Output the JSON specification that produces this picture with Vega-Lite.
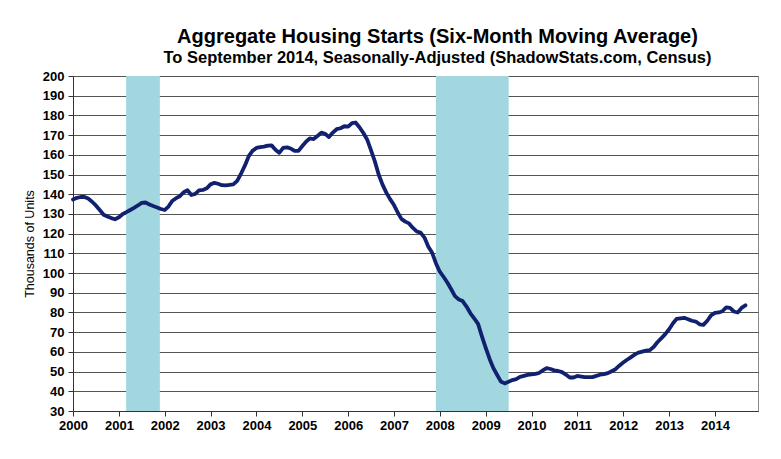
{
  "$schema": "https://vega.github.io/schema/vega-lite/v6.json",
  "width": 685,
  "height": 335,
  "autosize": {"type": "none"},
  "padding": {"left": 73, "top": 76, "right": 23, "bottom": 48},
  "background": "white",
  "title": {
    "text": "Aggregate Housing Starts (Six-Month Moving Average)",
    "subtitle": "To September 2014, Seasonally-Adjusted (ShadowStats.com, Census)",
    "font": "Liberation Sans",
    "fontSize": 20,
    "fontWeight": "bold",
    "color": "black",
    "subtitleFont": "Liberation Sans",
    "subtitleFontSize": 16.5,
    "subtitleFontWeight": "bold",
    "subtitleColor": "black",
    "subtitlePadding": 3,
    "anchor": "middle",
    "dx": 22,
    "offset": 4
  },
  "config": {
    "view": {"stroke": "#888888", "strokeWidth": 1},
    "axis": {
      "labelFont": "Liberation Sans",
      "labelFontSize": 13,
      "labelFontWeight": "bold",
      "labelColor": "black",
      "titleFont": "Liberation Sans",
      "titleColor": "black",
      "domainColor": "#333333",
      "tickColor": "#333333"
    }
  },
  "layer": [
    {
      "data": {"values": [
        {"start": "2001-02-27", "end": "2001-11-23"},
        {"start": "2007-12-01", "end": "2009-07-03"}
      ]},
      "mark": {"type": "rect", "color": "#A3D7DF"},
      "encoding": {
        "x": {
          "field": "start",
          "type": "temporal",
          "scale": {"type": "utc", "domain": [{"year": 2000, "month": 1, "date": 1, "utc": true}, {"year": 2014, "month": 12, "date": 10, "utc": true}]},
          "axis": {
            "title": null,
            "format": "%Y",
            "grid": false,
            "tickSize": 5,
            "labelPadding": 3,
            "labelAlign": "center",
            "labelFlush": false,
            "values": [
              {"year": 2000, "utc": true}, {"year": 2001, "utc": true}, {"year": 2002, "utc": true},
              {"year": 2003, "utc": true}, {"year": 2004, "utc": true}, {"year": 2005, "utc": true},
              {"year": 2006, "utc": true}, {"year": 2007, "utc": true}, {"year": 2008, "utc": true},
              {"year": 2009, "utc": true}, {"year": 2010, "utc": true}, {"year": 2011, "utc": true},
              {"year": 2012, "utc": true}, {"year": 2013, "utc": true}, {"year": 2014, "utc": true}
            ]
          }
        },
        "x2": {"field": "end"}
      }
    },
    {
      "data": {"values": [
        {"d": "2000-01-01", "v": 137.3}, {"d": "2000-02-01", "v": 138.2}, {"d": "2000-03-01", "v": 138.6}, {"d": "2000-04-01", "v": 138.6},
        {"d": "2000-05-01", "v": 137.8}, {"d": "2000-06-01", "v": 136.2}, {"d": "2000-07-01", "v": 134.3}, {"d": "2000-08-01", "v": 132.0},
        {"d": "2000-09-01", "v": 129.6}, {"d": "2000-10-01", "v": 128.7}, {"d": "2000-11-01", "v": 127.9}, {"d": "2000-12-01", "v": 127.3},
        {"d": "2001-01-01", "v": 128.3}, {"d": "2001-02-01", "v": 130.0}, {"d": "2001-03-01", "v": 130.9}, {"d": "2001-04-01", "v": 132.0},
        {"d": "2001-05-01", "v": 133.1}, {"d": "2001-06-01", "v": 134.3}, {"d": "2001-07-01", "v": 135.6}, {"d": "2001-08-01", "v": 135.8},
        {"d": "2001-09-01", "v": 134.8}, {"d": "2001-10-01", "v": 134.0}, {"d": "2001-11-01", "v": 133.3}, {"d": "2001-12-01", "v": 132.5},
        {"d": "2002-01-01", "v": 132.0}, {"d": "2002-02-01", "v": 133.9}, {"d": "2002-03-01", "v": 136.6}, {"d": "2002-04-01", "v": 138.0},
        {"d": "2002-05-01", "v": 139.0}, {"d": "2002-06-01", "v": 141.0}, {"d": "2002-07-01", "v": 142.0}, {"d": "2002-08-01", "v": 139.6},
        {"d": "2002-09-01", "v": 140.2}, {"d": "2002-10-01", "v": 142.0}, {"d": "2002-11-01", "v": 142.2}, {"d": "2002-12-01", "v": 143.0},
        {"d": "2003-01-01", "v": 145.0}, {"d": "2003-02-01", "v": 145.8}, {"d": "2003-03-01", "v": 145.3}, {"d": "2003-04-01", "v": 144.6},
        {"d": "2003-05-01", "v": 144.5}, {"d": "2003-06-01", "v": 144.7}, {"d": "2003-07-01", "v": 145.0}, {"d": "2003-08-01", "v": 146.8},
        {"d": "2003-09-01", "v": 150.5}, {"d": "2003-10-01", "v": 154.5}, {"d": "2003-11-01", "v": 159.3}, {"d": "2003-12-01", "v": 162.0},
        {"d": "2004-01-01", "v": 163.5}, {"d": "2004-02-01", "v": 163.9}, {"d": "2004-03-01", "v": 164.2}, {"d": "2004-04-01", "v": 164.7},
        {"d": "2004-05-01", "v": 164.8}, {"d": "2004-06-01", "v": 162.6}, {"d": "2004-07-01", "v": 161.0}, {"d": "2004-08-01", "v": 163.5},
        {"d": "2004-09-01", "v": 163.8}, {"d": "2004-10-01", "v": 163.2}, {"d": "2004-11-01", "v": 162.0}, {"d": "2004-12-01", "v": 162.0},
        {"d": "2005-01-01", "v": 164.5}, {"d": "2005-02-01", "v": 166.8}, {"d": "2005-03-01", "v": 168.3}, {"d": "2005-04-01", "v": 168.0},
        {"d": "2005-05-01", "v": 169.5}, {"d": "2005-06-01", "v": 171.3}, {"d": "2005-07-01", "v": 170.7}, {"d": "2005-08-01", "v": 169.0},
        {"d": "2005-09-01", "v": 171.3}, {"d": "2005-10-01", "v": 173.0}, {"d": "2005-11-01", "v": 173.5}, {"d": "2005-12-01", "v": 174.5},
        {"d": "2006-01-01", "v": 174.3}, {"d": "2006-02-01", "v": 176.1}, {"d": "2006-03-01", "v": 176.4}, {"d": "2006-04-01", "v": 174.0},
        {"d": "2006-05-01", "v": 171.2}, {"d": "2006-06-01", "v": 167.8}, {"d": "2006-07-01", "v": 162.5}, {"d": "2006-08-01", "v": 156.8},
        {"d": "2006-09-01", "v": 150.0}, {"d": "2006-10-01", "v": 145.0}, {"d": "2006-11-01", "v": 140.8}, {"d": "2006-12-01", "v": 137.5},
        {"d": "2007-01-01", "v": 134.5}, {"d": "2007-02-01", "v": 130.6}, {"d": "2007-03-01", "v": 127.5}, {"d": "2007-04-01", "v": 126.1},
        {"d": "2007-05-01", "v": 125.2}, {"d": "2007-06-01", "v": 122.9}, {"d": "2007-07-01", "v": 121.1}, {"d": "2007-08-01", "v": 120.5},
        {"d": "2007-09-01", "v": 118.0}, {"d": "2007-10-01", "v": 113.5}, {"d": "2007-11-01", "v": 110.3}, {"d": "2007-12-01", "v": 105.0},
        {"d": "2008-01-01", "v": 100.7}, {"d": "2008-02-01", "v": 98.0}, {"d": "2008-03-01", "v": 95.2}, {"d": "2008-04-01", "v": 91.8},
        {"d": "2008-05-01", "v": 88.3}, {"d": "2008-06-01", "v": 86.6}, {"d": "2008-07-01", "v": 85.8}, {"d": "2008-08-01", "v": 83.0},
        {"d": "2008-09-01", "v": 79.6}, {"d": "2008-10-01", "v": 77.0}, {"d": "2008-11-01", "v": 74.2}, {"d": "2008-12-01", "v": 68.0},
        {"d": "2009-01-01", "v": 62.0}, {"d": "2009-02-01", "v": 56.4}, {"d": "2009-03-01", "v": 52.0}, {"d": "2009-04-01", "v": 48.4},
        {"d": "2009-05-01", "v": 45.0}, {"d": "2009-06-01", "v": 44.0}, {"d": "2009-07-01", "v": 44.8}, {"d": "2009-08-01", "v": 45.7},
        {"d": "2009-09-01", "v": 46.2}, {"d": "2009-10-01", "v": 47.3}, {"d": "2009-11-01", "v": 47.8}, {"d": "2009-12-01", "v": 48.3},
        {"d": "2010-01-01", "v": 48.6}, {"d": "2010-02-01", "v": 48.8}, {"d": "2010-03-01", "v": 49.3}, {"d": "2010-04-01", "v": 50.6},
        {"d": "2010-05-01", "v": 51.8}, {"d": "2010-06-01", "v": 51.3}, {"d": "2010-07-01", "v": 50.6}, {"d": "2010-08-01", "v": 50.3},
        {"d": "2010-09-01", "v": 49.7}, {"d": "2010-10-01", "v": 48.5}, {"d": "2010-11-01", "v": 47.0}, {"d": "2010-12-01", "v": 47.0},
        {"d": "2011-01-01", "v": 47.8}, {"d": "2011-02-01", "v": 47.5}, {"d": "2011-03-01", "v": 47.2}, {"d": "2011-04-01", "v": 47.2},
        {"d": "2011-05-01", "v": 47.2}, {"d": "2011-06-01", "v": 47.8}, {"d": "2011-07-01", "v": 48.4}, {"d": "2011-08-01", "v": 48.7},
        {"d": "2011-09-01", "v": 49.2}, {"d": "2011-10-01", "v": 50.2}, {"d": "2011-11-01", "v": 51.2}, {"d": "2011-12-01", "v": 53.0},
        {"d": "2012-01-01", "v": 54.6}, {"d": "2012-02-01", "v": 56.0}, {"d": "2012-03-01", "v": 57.2}, {"d": "2012-04-01", "v": 58.6},
        {"d": "2012-05-01", "v": 59.6}, {"d": "2012-06-01", "v": 60.1}, {"d": "2012-07-01", "v": 60.6}, {"d": "2012-08-01", "v": 60.9},
        {"d": "2012-09-01", "v": 62.6}, {"d": "2012-10-01", "v": 65.0}, {"d": "2012-11-01", "v": 67.0}, {"d": "2012-12-01", "v": 69.0},
        {"d": "2013-01-01", "v": 71.5}, {"d": "2013-02-01", "v": 74.5}, {"d": "2013-03-01", "v": 76.7}, {"d": "2013-04-01", "v": 77.0},
        {"d": "2013-05-01", "v": 77.3}, {"d": "2013-06-01", "v": 76.6}, {"d": "2013-07-01", "v": 75.8}, {"d": "2013-08-01", "v": 75.4},
        {"d": "2013-09-01", "v": 74.0}, {"d": "2013-10-01", "v": 73.7}, {"d": "2013-11-01", "v": 75.8}, {"d": "2013-12-01", "v": 78.5},
        {"d": "2014-01-01", "v": 79.8}, {"d": "2014-02-01", "v": 80.0}, {"d": "2014-03-01", "v": 80.6}, {"d": "2014-04-01", "v": 82.6},
        {"d": "2014-05-01", "v": 82.3}, {"d": "2014-06-01", "v": 80.5}, {"d": "2014-07-01", "v": 80.0}, {"d": "2014-08-01", "v": 82.3},
        {"d": "2014-09-01", "v": 83.6}
      ]},
      "mark": {"type": "line", "color": "#122070", "strokeWidth": 3.8, "strokeJoin": "round", "strokeCap": "round"},
      "encoding": {
        "x": {"field": "d", "type": "temporal"},
        "y": {
          "field": "v",
          "type": "quantitative",
          "scale": {"domain": [30, 200], "nice": false, "zero": false},
          "axis": {
            "title": "Thousands of Units",
            "titleFontSize": 12.5,
            "titleFontWeight": "normal",
            "titlePadding": 6,
            "values": [30, 40, 50, 60, 70, 80, 90, 100, 110, 120, 130, 140, 150, 160, 170, 180, 190, 200],
            "tickSize": 5,
            "labelPadding": 4,
            "grid": true,
            "gridColor": "#555555",
            "gridWidth": 1,
            "gridOpacity": 1
          }
        }
      }
    }
  ]
}
